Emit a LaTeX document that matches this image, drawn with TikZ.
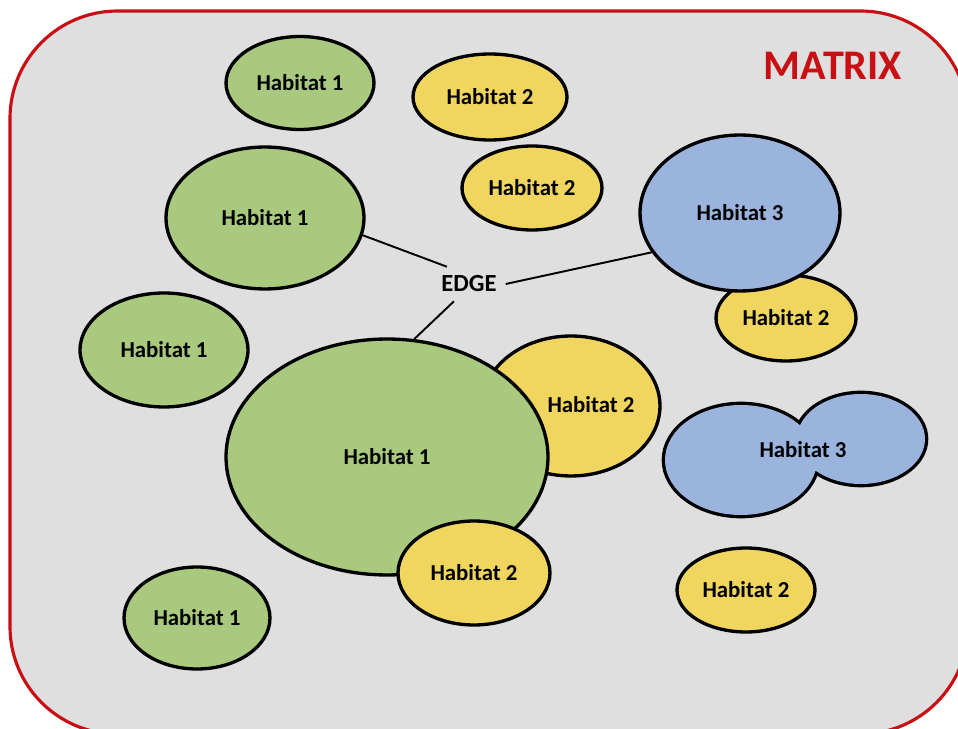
\documentclass[tikz,border=0pt]{standalone}
\usepackage{fontspec}
\setmainfont{Carlito}
\usetikzlibrary{shapes.geometric}
\definecolor{matrixgrey}{HTML}{DFDFDF}
\definecolor{matrixred}{HTML}{C81014}
\definecolor{habgreen}{HTML}{A8C97E}
\definecolor{habyellow}{HTML}{F0D55F}
\definecolor{habblue}{HTML}{9BB4DE}
\tikzset{
  habtext/.style={font=\fontsize{13}{15}\selectfont\bfseries},
  patch/.style 2 args={ellipse, draw=black, line width=1.9pt, inner sep=0pt,
    minimum width=#1, minimum height=#2, habtext},
  hab1/.style 2 args={patch={#1}{#2}, fill=habgreen},
  hab2/.style 2 args={patch={#1}{#2}, fill=habyellow},
  hab3/.style 2 args={patch={#1}{#2}, fill=habblue},
}
\begin{document}
\begin{tikzpicture}[x=0.02cm,y=-0.02cm]
      \useasboundingbox (0,0) rectangle (958,729);
      \draw[draw=matrixred, fill=matrixgrey, line width=1.8pt, rounded corners=2.15cm]
        (10,11) rectangle (968,734);
      \draw (833,66) node[text=matrixred, font=\fontsize{24}{28}\selectfont\bfseries] (matrix){MATRIX};
      % patches
      \draw
        (300,83) node[hab1={2.96cm}{1.86cm}] (h1a){Habitat 1}
        (490,97) node[hab2={3.08cm}{1.72cm}] (h2a){Habitat 2}
        (532,188) node[hab2={2.80cm}{1.68cm}] (h2b){Habitat 2}
        (265,218) node[hab1={3.96cm}{2.84cm}] (h1b){Habitat 1}
        (786,318) node[hab2={2.80cm}{1.72cm}] (h2c){Habitat 2}
        (740,213) node[hab3={4.00cm}{3.12cm}] (h3a){Habitat 3}
        (164,350) node[hab1={3.36cm}{2.28cm}] (h1c){Habitat 1}
        (571,406) node[hab2={3.56cm}{2.80cm}] (h2d){}
        (591,405) node[habtext] (h2dtext){Habitat 2}
        (387,457) node[hab1={6.44cm}{4.72cm}] (h1d){Habitat 1}
        (474,573) node[hab2={3.04cm}{2.08cm}] (h2e){Habitat 2}
        (746,590) node[hab2={2.76cm}{1.68cm}] (h2f){Habitat 2}
        (197,618) node[hab1={2.92cm}{2.04cm}] (h1e){Habitat 1};
      % two joined lobes
      \draw
        (741,460) node[hab3={3.04cm}{2.20cm}, line width=3.8pt] (h3b1){}
        (861,439) node[hab3={2.56cm}{1.80cm}, line width=3.8pt] (h3b2){};
      \fill[habblue] (h3b1.center) ellipse [x radius=1.52cm, y radius=1.10cm]
        (h3b2.center) ellipse [x radius=1.28cm, y radius=0.90cm];
      \draw (803,450) node[habtext] (h3b){Habitat 3};
      % edge
      \draw (469,284) node[inner sep=5pt, font=\fontsize{14}{16}\selectfont\bfseries] (edge){EDGE};
      \begin{scope}[line width=1.1pt]
        \draw (edge.142) to (h1b.-10);
        \draw (edge.east) to (h3a.-156);
        \draw (edge.-131) to (h1d.77);
      \end{scope}
    \end{tikzpicture}
\end{document}
